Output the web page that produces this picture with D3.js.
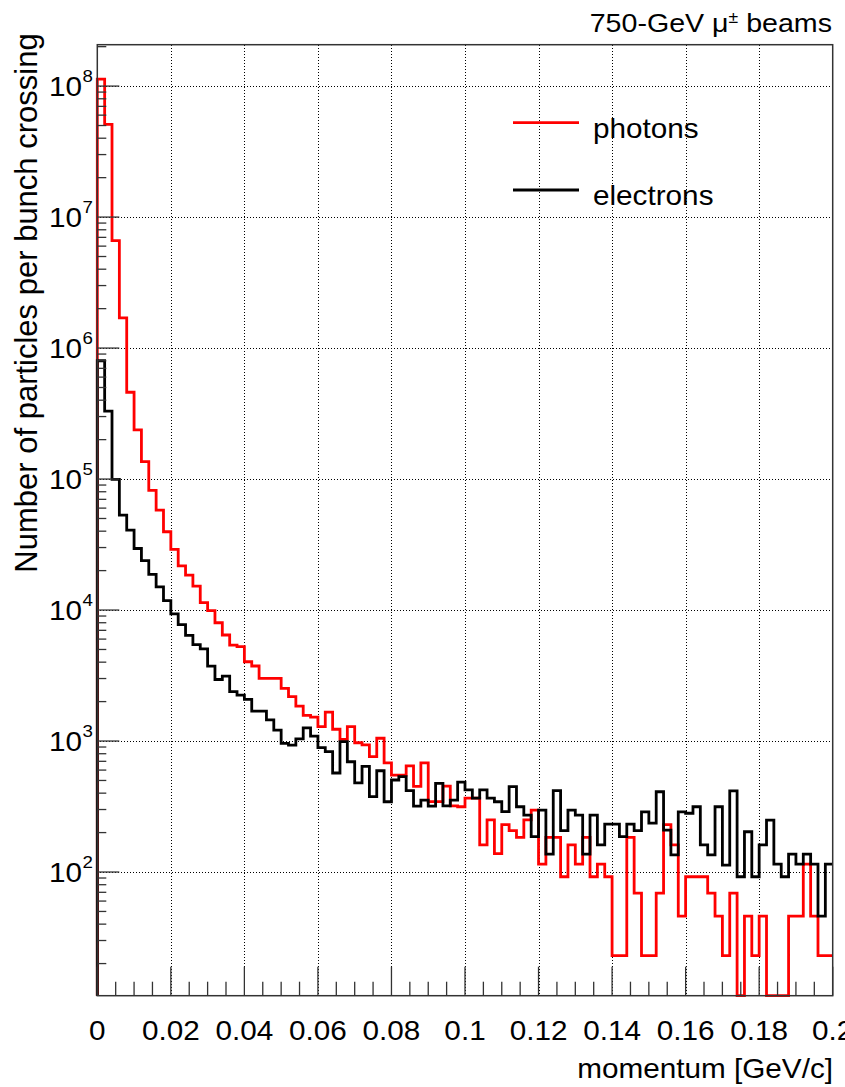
<!DOCTYPE html>
<html><head><meta charset="utf-8">
<script src="https://cdn.jsdelivr.net/npm/d3@7"></script>
<style>body{margin:0;background:#fff}svg{display:block}</style>
</head><body>
<svg id="c" width="845" height="1087"></svg>
<script>
// ---------- data ----------
const binWidth = 0.002;          // GeV/c per bin, 100 bins from 0 to 0.2
const photons = [
  1.13e8, 5.1e7, 6.6e6, 1.7e6, 4.6e5, 2.37e5, 1.36e5, 8.2e4, 5.8e4, 3.96e4,
  2.9e4, 2.17e4, 1.85e4, 1.52e4, 1.14e4, 9900, 8000, 6450, 5400, 5250,
  4030, 3740, 3010, 3010, 3010, 2520, 2180, 1850, 1570, 1520,
  1290, 1660, 1230, 1030, 1290, 970, 935, 760, 1050, 680,
  550, 550, 645, 450, 680, 345, 345, 453, 320, 315,
  366, 366, 161, 250, 138, 230, 207, 184, 250, 297,
  115, 184, 184, 92, 161, 115, 184, 92, 115, 92,
  23, 23, 184, 69, 23, 23, 69, 230, 161, 46,
  92, 92, 92, 69, 46, 23, 69, 0, 46, 23,
  46, 0, 0, 0, 46, 46, 115, 46, 23, 23
];
const electrons = [
  8.0e5, 3.3e5, 9.96e4, 5.3e4, 4.07e4, 2.95e4, 2.38e4, 1.87e4, 1.5e4, 1.18e4,
  9350, 7750, 6400, 5450, 5050, 3730, 2950, 3130, 2380, 2240,
  2080, 1690, 1690, 1450, 1210, 960, 932, 1040, 1260, 1090,
  892, 829, 570, 990, 695, 480, 640, 376, 593, 344,
  504, 534, 418, 319, 354, 319, 475, 320, 354, 485,
  423, 366, 423, 366, 344, 289, 448, 315, 272, 186,
  297, 137, 418, 207, 297, 272, 137, 272, 161, 232,
  232, 186, 232, 207, 288, 236, 410, 209, 135, 288,
  281, 315, 161, 135, 315, 113, 417, 92, 203, 92,
  161, 249, 115, 92, 137, 115, 137, 115, 46, 115
];
const xTickValues = [0, 0.02, 0.04, 0.06, 0.08, 0.1, 0.12, 0.14, 0.16, 0.18, 0.2];
const xTickLabels = ["0", "0.02", "0.04", "0.06", "0.08", "0.1", "0.12", "0.14", "0.16", "0.18", "0.2"];
const yDecadeExponents = [2, 3, 4, 5, 6, 7, 8];
const seriesNames = ["photons", "electrons"];
const seriesColors = ["#ff0000", "#000000"];
const xTitle = "momentum [GeV/c]";
const yTitle = "Number of particles per bunch crossing";
const topLabel = ["750-GeV μ", "±", " beams"];

// ---------- layout ----------
const L = 97.3, R = 832.7, T = 44.7, B = 995.7;
const yMin = 11.37, yMax = 2.07e8;
const FONT = "'Liberation Sans', Arial, Helvetica, sans-serif";
const SX = 1.1;

const svg = d3.select("#c");
const x = d3.scaleLinear().domain([0, 0.2]).range([L, R]);
const y = d3.scaleLog().domain([yMin, yMax]).range([B, T]);
const px = v => Math.round(v) + 0.5;

function txt(g, xx, yy, s, size, anchor, sx) {
  return g.append("text")
    .attr("transform", `translate(${xx},${yy}) scale(${sx},1)`)
    .attr("font-family", FONT).attr("font-size", size)
    .attr("text-anchor", anchor).attr("fill", "#000").text(s);
}

// grid
const grid = svg.append("g").attr("stroke", "#000").attr("stroke-width", 1)
  .attr("stroke-dasharray", "1,2").attr("shape-rendering", "crispEdges");
xTickValues.slice(1, -1).forEach(v => {
  grid.append("line").attr("x1", px(x(v))).attr("x2", px(x(v))).attr("y1", T).attr("y2", B);
});
yDecadeExponents.forEach(e => {
  const yy = px(y(Math.pow(10, e)));
  grid.append("line").attr("x1", L).attr("x2", R).attr("y1", yy).attr("y2", yy);
});

// histograms
function stepPoints(vals) {
  const pts = [[x(0), B]];
  vals.forEach((v, i) => pts.push([x(i * binWidth), y(Math.max(v, yMin))]));
  pts.push([x(vals.length * binWidth), y(Math.max(vals[vals.length - 1], yMin))]);
  return pts;
}
const line = d3.line().curve(d3.curveStepAfter);
[photons, electrons].forEach((vals, k) => {
  svg.append("path").attr("d", line(stepPoints(vals)))
    .attr("fill", "none").attr("stroke", seriesColors[k])
    .attr("stroke-width", 2.8).attr("stroke-linejoin", "miter");
});

// frame
svg.append("rect").attr("x", L).attr("y", T).attr("width", R - L).attr("height", B - T)
  .attr("fill", "none").attr("stroke", "#333").attr("stroke-width", 1.5);

// x ticks
const ax = svg.append("g").attr("stroke", "#333").attr("stroke-width", 1.3);
d3.range(0, 41).forEach(i => {
  const v = i * 0.005;
  const major = i % 4 === 0;
  ax.append("line").attr("x1", x(v)).attr("x2", x(v)).attr("y1", B).attr("y2", B - (major ? 29 : 14));
});
// y ticks
yDecadeExponents.concat([1]).forEach(e => {
  for (let k = 1; k <= 9; k++) {
    const v = k * Math.pow(10, e);
    if (v < yMin || v > yMax) continue;
    ax.append("line").attr("x1", L).attr("x2", L + (k === 1 ? 22 : 9)).attr("y1", y(v)).attr("y2", y(v));
  }
});

// x tick labels
const lab = svg.append("g");
xTickValues.forEach((v, i) => txt(lab, x(v), 1040, xTickLabels[i], 27, "middle", SX));
// y tick labels (right edge near the axis)
yDecadeExponents.forEach(e => {
  const yy = y(Math.pow(10, e));
  txt(lab, 82, yy + 10, "10", 27, "end", SX);
  txt(lab, 82.5, yy - 4, String(e), 17, "start", SX);
});

// axis titles
txt(lab, 833, 1078, xTitle, 27, "end", SX);
lab.append("text").attr("transform", "translate(37,303) rotate(-90)")
  .attr("font-family", FONT).attr("font-size", 31).attr("text-anchor", "middle").text(yTitle);

// top label
const tl = lab.append("text").attr("transform", `translate(832,32) scale(${SX},1)`)
  .attr("font-family", FONT).attr("font-size", 26).attr("text-anchor", "end");
tl.append("tspan").text(topLabel[0]);
tl.append("tspan").attr("font-size", 16).attr("dy", -9).text(topLabel[1]);
tl.append("tspan").attr("dy", 9).text(topLabel[2]);

// legend
const legY = [122.7, 190];
seriesNames.forEach((n, k) => {
  svg.append("line").attr("x1", 513).attr("x2", 579).attr("y1", legY[k]).attr("y2", legY[k])
    .attr("stroke", seriesColors[k]).attr("stroke-width", 2.8);
  txt(lab, 593, legY[k] + 15, n, 27, "start", SX);
});
</script>
</body></html>
